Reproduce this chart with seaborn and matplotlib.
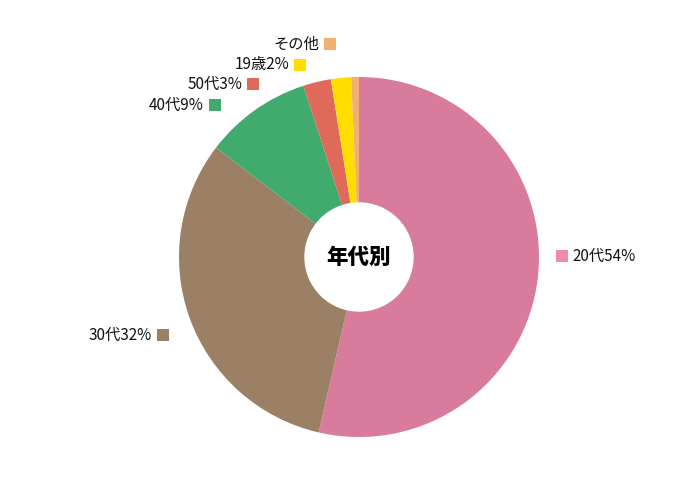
import numpy as np
import matplotlib
matplotlib.use("Agg")
import matplotlib.pyplot as plt
import seaborn as sns

# ---- data ----
groups = ["20代", "30代", "40代", "50代", "19歳", "その他"]
shares = [53.6, 31.8, 9.6, 2.5, 1.8, 0.7]
label_texts = ["20代54%", "30代32%", "40代9%", "50代3%", "19歳2%", "その他"]
slice_colors = ["#d87b9c", "#9c8066", "#41aa6d", "#e06a59", "#ffdd00", "#f0b072"]
marker_colors = ["#ef8aab", "#9c8066", "#41aa6d", "#e06a59", "#ffdd00", "#f0b072"]
center_title = "年代別"

sns.set_theme(style="white")
plt.rcParams['font.family'] = ['Noto Sans CJK JP', 'DejaVu Sans']

fig = plt.figure(figsize=(7, 5), dpi=100)
ax = fig.add_axes([0, 0, 1, 1])

cx, cy, r = 359, 257, 180
# y axis is flipped, so counterclock=True draws clockwise on screen
ax.pie(shares, colors=slice_colors, startangle=-90, counterclock=True,
       center=(cx, cy), radius=r, frame=True,
       wedgeprops=dict(linewidth=0))
ax.add_patch(plt.Circle((cx, cy), 54, color="white", zorder=3))
ax.set_xlim(0, 700)
ax.set_ylim(500, 0)
ax.set_aspect("equal")
ax.axis("off")

ax.text(cx, cy, center_title, ha="center", va="center", fontsize=15.5,
        fontweight="heavy", color="black", zorder=4)

# label layout: (square x, square y, side)
spots = [(562, 256, "right"), (163, 335, "left"), (215, 105, "left"),
         (253, 84, "left"), (300, 65, "left"), (330, 44, "left")]
for txt, col, (sx, sy, side) in zip(label_texts, marker_colors, spots):
    ax.scatter([sx], [sy], marker="s", s=72, color=col, linewidths=0, zorder=5)
    if side == "right":
        ax.text(sx + 10, sy, txt, ha="left", va="center", fontsize=11, color="#111111")
    else:
        ax.text(sx - 11, sy, txt, ha="right", va="center", fontsize=11, color="#111111")

fig.savefig("out.png", dpi=100, facecolor="white")
